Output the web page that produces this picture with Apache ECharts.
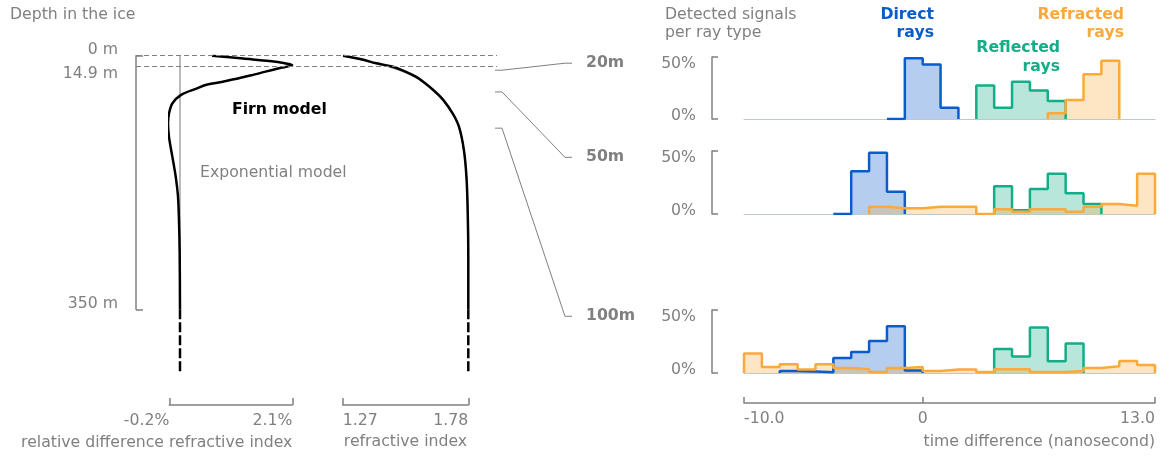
<!DOCTYPE html>
<html>
<head>
<meta charset="utf-8">
<script src="https://cdn.jsdelivr.net/npm/echarts@6/dist/echarts.min.js"></script>
<style>
  html, body { margin: 0; padding: 0; background: #fff; }
  #chart { width: 1164px; height: 457px; }
</style>
</head>
<body>
<div id="chart"></div>
<script>
// --- depth profiles (depth in m) ---
const depthA = [0, 4, 8.3, 11, 13, 17.4, 22, 27, 31, 36, 40.4, 45, 54, 66, 80, 93, 112, 139, 167, 195, 227, 272, 350];
const relDiff = [0.6, 1.18, 1.79, 2.0, 2.1, 1.85, 1.6, 1.34, 1.1, 0.8, 0.48, 0.32, 0.02, -0.144, -0.206, -0.224, -0.206, -0.144, -0.08, -0.037, -0.019, -0.006, 0.0];

const depthB = [0, 5, 10.5, 15, 22, 29, 36, 48, 61, 80, 98, 130, 170, 222, 280, 350];
const nFirn = [1.272, 1.345, 1.407, 1.47, 1.525, 1.567, 1.597, 1.64, 1.678, 1.717, 1.742, 1.762, 1.773, 1.778, 1.78, 1.78];
const nExp = [1.272, 1.338, 1.398, 1.455, 1.515, 1.56, 1.594, 1.639, 1.678, 1.717, 1.742, 1.762, 1.773, 1.778, 1.78, 1.78];

const depthTicks = [0, 14.9, 350];
const depthEnd = 438;
const relTicks = [-0.2, 2.1];
const nTicks = [1.27, 1.78];

// --- histograms: first bin edge (ns) + bin heights (%) of 1 ns bins ---
const timeTicks = [-10, 0, 13];
const pctTicks = [0, 50];
const panelDepths = [20, 50, 100];
const panelLabels = ["20m", "50m", "100m"];

const direct20 = { start: -2, values: [0, 49, 44, 9] };
const reflected20 = { start: 3, values: [27, 9, 30, 23, 14.5] };
const refracted20 = { start: 7, values: [4.6, 15.3, 36, 47] };

const direct50 = { start: -5, values: [0, 34, 48.6, 17.7] };
const reflected50 = { start: 4, values: [22, 3, 19.8, 32, 16.4, 8] };
const refracted50 = { start: -3, values: [5.8, 4.5, 4.5, 5.8, 5.8, 5.8, 0, 3.7, 1.8, 3.7, 3.7, 1.8, 5.8, 8, 6.6, 32] };

const direct100 = { start: -8, values: [1.6, 1.2, 0.5, 12, 16.7, 25.3, 37.2, 2] };
const reflected100 = { start: 4, values: [19, 13, 36.2, 9.3, 23.4] };
const refracted100 = { start: -10, values: [15.4, 4.8, 7, 2.7, 7, 4, 3, 0.8, 4, 4.8, 1.6, 2.7, 2.7, 0.8, 3, 3, 0.8, 0.8, 1.6, 4, 5.3, 9.6, 6.4] };

const FONT = "DejaVu Sans";
const FS = 15.7;
const GRAY = "#808080";
const BLUE = "#0a5ccb";
const GREEN = "#13ad88";
const ORANGE = "#fba93a";

const chart = echarts.init(document.getElementById("chart"));

const pairs = (xs, ys) => xs.map((x, i) => [x, ys[i]]);

// step outline: up at the first edge, flat over each bin, down at the last edge
const stepPoints = (h) => {
  const pts = [[h.start, 0]];
  h.values.forEach((v, i) => pts.push([h.start + i, v]));
  const end = h.start + h.values.length;
  pts.push([end, h.values[h.values.length - 1]]);
  pts.push([end, 0]);
  return pts;
};

const histSeries = (h, color, idx) => ({
  type: "line",
  xAxisIndex: idx,
  yAxisIndex: idx,
  data: stepPoints(h),
  step: "end",
  symbol: "none",
  silent: true,
  lineStyle: { color: color, width: 2.5 },
  areaStyle: { color: color, opacity: 0.3 },
});

const hiddenAxis = (gridIndex, min, max, inverse) => ({
  type: "value", gridIndex, min, max, inverse: !!inverse, show: false,
});

const baseAxis = (gridIndex) => ({
  type: "value", gridIndex, min: -10, max: 13, position: "bottom",
  axisLine: { show: true, onZero: false, lineStyle: { color: "#bccbbf", width: 1 } },
  axisTick: { show: false }, axisLabel: { show: false }, splitLine: { show: false },
});

const labelStyle = { color: GRAY, fontFamily: FONT, fontSize: FS };

const pctAxis = (gridIndex) => ({
  type: "value", gridIndex, min: 0, max: 50, interval: 50, position: "left", offset: 32,
  axisLine: { show: true, onZero: false, lineStyle: { color: GRAY, width: 1.5 } },
  axisTick: { show: true, inside: true, length: 6, lineStyle: { color: GRAY, width: 1.5 } },
  axisLabel: Object.assign({
    margin: 16,
    formatter: (v) => (v === 50 ? "{hi|50%}" : "{lo|0%}"),
    rich: {
      hi: Object.assign({ padding: [13, 0, 0, 0] }, labelStyle),
      lo: Object.assign({ padding: [0, 0, 7, 0] }, labelStyle),
    },
  }, labelStyle),
  splitLine: { show: false },
});

const option = {
  animation: false,
  backgroundColor: "#fff",
  textStyle: { fontFamily: FONT },
  grid: [
    { left: 136, top: 55.7, width: 361, height: 253.6, outerBoundsMode: "none" },
    { left: 169.3, top: 55.7, width: 123, height: 317.3, outerBoundsMode: "none" },
    { left: 342.7, top: 55.7, width: 125.6, height: 317.3, outerBoundsMode: "none" },
    { left: 744, top: 57, width: 411, height: 62, outerBoundsMode: "none" },
    { left: 744, top: 151, width: 411, height: 63, outerBoundsMode: "none" },
    { left: 744, top: 310, width: 411, height: 63, outerBoundsMode: "none" },
  ],
  xAxis: [
    hiddenAxis(0, 0, 1),
    {
      type: "value", gridIndex: 1, min: relTicks[0], max: relTicks[1], interval: relTicks[1] - relTicks[0],
      position: "bottom", offset: 32,
      axisLine: { show: true, onZero: false, lineStyle: { color: GRAY, width: 1.5 } },
      axisTick: { show: true, inside: true, length: 7, lineStyle: { color: GRAY, width: 1.5 } },
      axisLabel: Object.assign({ margin: 8, align: "right", formatter: (v) => v.toFixed(1) + "%" }, labelStyle),
      splitLine: { show: false },
      name: "relative difference refractive index", nameLocation: "end", nameGap: 0,
      nameTextStyle: Object.assign({ align: "right", verticalAlign: "top", padding: [30, 0, 0, 0] }, labelStyle),
    },
    {
      type: "value", gridIndex: 2, min: nTicks[0], max: nTicks[1], interval: nTicks[1] - nTicks[0],
      position: "bottom", offset: 32,
      axisLine: { show: true, onZero: false, lineStyle: { color: GRAY, width: 1.5 } },
      axisTick: { show: true, inside: true, length: 7, lineStyle: { color: GRAY, width: 1.5 } },
      axisLabel: Object.assign({
        margin: 8, alignMinLabel: "left", alignMaxLabel: "right", formatter: (v) => v.toFixed(2),
      }, labelStyle),
      splitLine: { show: false },
      name: "refractive index", nameLocation: "middle", nameGap: 29,
      nameTextStyle: labelStyle,
    },
    baseAxis(3),
    baseAxis(4),
    baseAxis(5),
    {
      type: "value", gridIndex: 5, min: timeTicks[0], max: timeTicks[2], position: "bottom", offset: 30,
      axisLine: { show: true, onZero: false, lineStyle: { color: GRAY, width: 1.5 } },
      axisTick: { show: true, inside: true, length: 6, customValues: timeTicks, lineStyle: { color: GRAY, width: 1.5 } },
      axisLabel: Object.assign({
        margin: 8, customValues: timeTicks, alignMinLabel: "left", alignMaxLabel: "right",
        formatter: (v) => (v === 0 ? "0" : v.toFixed(1)),
      }, labelStyle),
      splitLine: { show: false },
      name: "time difference (nanosecond)", nameLocation: "end", nameGap: 0,
      nameTextStyle: Object.assign({ align: "right", verticalAlign: "top", padding: [31, 0, 0, 0] }, labelStyle),
    },
  ],
  yAxis: [
    {
      type: "value", gridIndex: 0, min: 0, max: 350, inverse: true, position: "left",
      axisLine: { show: true, onZero: false, lineStyle: { color: GRAY, width: 1.5 } },
      axisTick: { show: true, inside: true, length: 7, customValues: [0, 350], lineStyle: { color: GRAY, width: 1.5 } },
      axisLabel: Object.assign({
        margin: 18, customValues: depthTicks,
        formatter: (v) => (v === 14.9 ? "{dn|14.9 m}" : "{up|" + v + " m}"),
        rich: {
          up: Object.assign({ padding: [0, 0, 11, 0] }, labelStyle),
          dn: Object.assign({ padding: [15, 0, 0, 0] }, labelStyle),
        },
      }, labelStyle),
      splitLine: { show: false },
    },
    hiddenAxis(1, 0, depthEnd, true),
    hiddenAxis(2, 0, depthEnd, true),
    pctAxis(3),
    pctAxis(4),
    pctAxis(5),
  ],
  series: [
    {
      type: "line", xAxisIndex: 0, yAxisIndex: 0, data: [], symbol: "none", silent: true,
      markLine: {
        symbol: "none", silent: true, label: { show: false },
        lineStyle: { color: GRAY, type: [5, 3], width: 1 },
        data: [{ yAxis: depthTicks[0] }, { yAxis: depthTicks[1] }],
      },
    },
    // exponential model = zero difference
    {
      type: "line", xAxisIndex: 1, yAxisIndex: 1, data: [[0, 0], [0, 350]], symbol: "none", silent: true,
      lineStyle: { color: "#8c8c8c", width: 1.2 },
    },
    {
      type: "line", xAxisIndex: 1, yAxisIndex: 1, data: pairs(relDiff, depthA), symbol: "none", silent: true,
      smooth: 0.3,
      lineStyle: { color: "#000", width: 2.5 }, z: 3,
    },
    {
      type: "line", xAxisIndex: 1, yAxisIndex: 1, data: [[0, 350], [0, depthEnd]], symbol: "none", silent: true,
      lineStyle: { color: "#000", width: 2.5, type: [10, 3] }, z: 3,
    },
    {
      type: "line", xAxisIndex: 2, yAxisIndex: 2, data: pairs(nExp, depthB), symbol: "none", silent: true,
      smooth: 0.35,
      lineStyle: { color: "#8c8c8c", width: 1.5 },
    },
    {
      type: "line", xAxisIndex: 2, yAxisIndex: 2, data: pairs(nFirn, depthB), symbol: "none", silent: true,
      smooth: 0.35,
      lineStyle: { color: "#000", width: 2.5 }, z: 3,
    },
    {
      type: "line", xAxisIndex: 2, yAxisIndex: 2, data: [[nTicks[1], 350], [nTicks[1], depthEnd]], symbol: "none", silent: true,
      lineStyle: { color: "#000", width: 2.5, type: [10, 3] }, z: 3,
    },
    histSeries(direct20, BLUE, 3),
    histSeries(reflected20, GREEN, 3),
    histSeries(refracted20, ORANGE, 3),
    histSeries(direct50, BLUE, 4),
    histSeries(reflected50, GREEN, 4),
    histSeries(refracted50, ORANGE, 4),
    histSeries(direct100, BLUE, 5),
    histSeries(reflected100, GREEN, 5),
    histSeries(refracted100, ORANGE, 5),
  ],
};

chart.setOption(option);

const txt = (text, x, y, opts) => ({
  type: "text", x, y, silent: true,
  style: Object.assign({
    text, fill: GRAY, font: FS + "px '" + FONT + "'",
    textAlign: "left", textVerticalAlign: "middle", align: "left", verticalAlign: "middle",
  }, opts || {}),
});
const BOLD = "bold " + FS + "px '" + FONT + "'";

const graphics = [
  txt("Depth in the ice", 10, 15),
  txt("Firn model", 232, 110, { fill: "#000", font: BOLD }),
  txt("Exponential model", 200, 173),
  txt("Detected signals\nper ray type", 665, 24, { lineHeight: 18 }),
  txt("Direct\nrays", 934, 24, { fill: BLUE, font: BOLD, lineHeight: 18, textAlign: "right", align: "right" }),
  txt("Refracted\nrays", 1124, 24, { fill: ORANGE, font: BOLD, lineHeight: 18, textAlign: "right", align: "right" }),
  txt("Reflected\nrays", 1060, 57, { fill: GREEN, font: BOLD, lineHeight: 19, textAlign: "right", align: "right" }),
];

// connectors from depth in the profile to each histogram panel
const xEdge = chart.convertToPixel({ xAxisIndex: 0 }, 1);
panelDepths.forEach((d, i) => {
  const yd = chart.convertToPixel({ yAxisIndex: 0 }, d);
  const yl = chart.convertToPixel({ yAxisIndex: 3 + i }, 45);
  graphics.push({
    type: "polyline", silent: true,
    shape: { points: [[xEdge - 2, yd], [xEdge + 5, yd], [565, yl], [572, yl]] },
    style: { stroke: GRAY, lineWidth: 1, fill: null },
  });
  graphics.push(txt(panelLabels[i], 586, yl, { font: BOLD }));
});

chart.setOption({ graphic: graphics });
</script>
</body>
</html>
